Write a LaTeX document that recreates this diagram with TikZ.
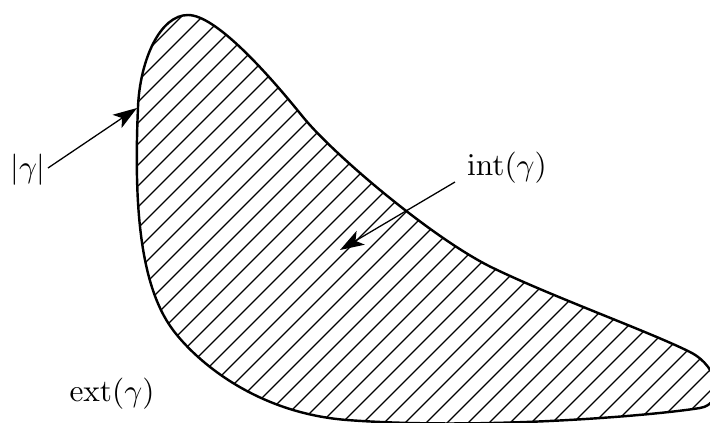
\documentclass[tikz,border=0pt]{standalone}
\usetikzlibrary{arrows.meta}
\begin{document}
\begin{tikzpicture}[x=0.35pt,y=-0.35pt,
  lbl/.style={inner sep=0pt,font=\fontsize{10.95}{13}\selectfont},
  pointer/.style={line width=0.45pt,-{Stealth[length=8.4pt,width=5.6pt,inset=2.1pt]}},
  rim/.style={line width=0.85pt},
  hatch/.style={line width=0.42pt}]
\useasboundingbox (0,0) rectangle (710,423);
\def\blob{(138,107) .. controls (140,60) and (160,15) .. (188,15)
  .. controls (215,15) and (265,70) .. (303,117)
  .. controls (333,154) and (433,239) .. (493,268)
  .. controls (553,297) and (650,332) .. (690,352)
  .. controls (720,367) and (725,404) .. (700,408)
  .. controls (650,416) and (480,430) .. (347,420)
  .. controls (257,413) and (197,362) .. (173,330)
  .. controls (137,282) and (134.4,192) .. (138,107) -- cycle}
\begin{scope}
  \clip \blob;
  \foreach \c in {72,93,...,1200}
    \draw[hatch] (\c,0) -- (\c-450,450);
\end{scope}
\draw[rim] \blob;
\node[lbl] (lg) at (28,170) {$|\gamma|$};
\node[lbl] (li) at (507,168) {$\mathrm{int}(\gamma)$};
\node[lbl] (le) at (112,394) {$\mathrm{ext}(\gamma)$};
\coordinate (lgs) at (48,168);
\coordinate (lgt) at (137,108);
\coordinate (lis) at (455,182);
\coordinate (lit) at (340,250);
\draw[pointer] (lgs) -- (lgt);
\draw[pointer] (lis) -- (lit);
\end{tikzpicture}
\end{document}
